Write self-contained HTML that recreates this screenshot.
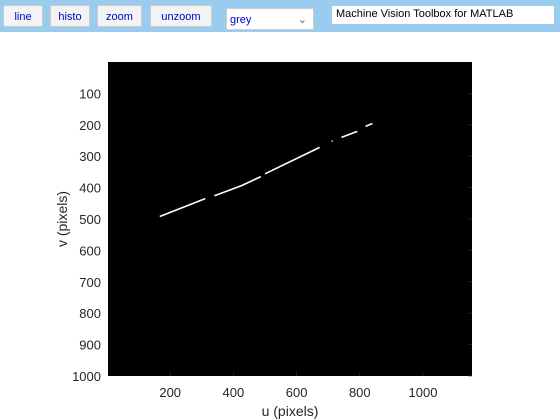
<!DOCTYPE html>
<html><head><meta charset="utf-8"><style>
body{margin:0;width:560px;height:420px;background:#fff;overflow:hidden;font-family:"Liberation Sans",sans-serif;position:relative}
#bar{position:absolute;left:0;top:0;width:560px;height:32px;background:#99ccee}
.btn{position:absolute;top:5px;height:22px;background:#f4f4f4;border:1px solid #ccc;border-radius:2px;color:#0000cc;font-size:11px;text-align:center;line-height:22px;box-sizing:border-box}
#sel{position:absolute;left:226px;top:8px;width:88px;height:22px;background:#fff;border:1px solid #ccc;box-sizing:border-box;color:#0000cc;font-size:11px;line-height:22px;padding-left:3px}
#title{position:absolute;left:332px;top:6px;width:222px;height:18px;background:#fff;font-size:11px;line-height:16px;padding-left:4px;box-sizing:border-box}
</style></head><body>
<div id="bar">
<div class="btn" style="left:3px;width:40px">line</div>
<div class="btn" style="left:50px;width:40px">histo</div>
<div class="btn" style="left:97px;width:45px">zoom</div>
<div class="btn" style="left:150px;width:62px">unzoom</div>
<div id="sel">grey<span style="position:absolute;right:6px;top:0;color:#666">&#8964;</span></div>
<div id="title">Machine Vision Toolbox for MATLAB</div>
</div>
<svg id="chart" width="560" height="420" style="position:absolute;left:0;top:0"></svg>
<script>
const segU=[[167,311],[340,425,487],[500,673],[711,714],[742,792],[818,840]];
const segV=[[492,435],[426,394,365],[356,272],[253,251],[240,221],[205,196]];
const xTicks=[200,400,600,800,1000];
const yTicks=[100,200,300,400,500,600,700,800,900,1000];
const X0=107,XS=0.316,Y0=62,YS=0.314;
function sx(u){return X0+u*XS}
function sy(v){return Y0+v*YS}
const NS="http://www.w3.org/2000/svg",svg=document.getElementById('chart');
function mk(t,a){const e=document.createElementNS(NS,t);for(const k in a)e.setAttribute(k,a[k]);svg.appendChild(e);return e}
const bg=mk('rect',{x:108,y:62,width:364,height:314,fill:'#000'});


segU.forEach((us,i)=>{
 const p=mk('polyline',{points:us.map((u,j)=>sx(u)+','+sy(segV[i][j])).join(' '),fill:'none',stroke:'#fff','stroke-width':1.6});
 
 
});
xTicks.forEach(t=>{
 const tk=mk('line',{x1:sx(t),x2:sx(t),y1:376,y2:372,stroke:'#333','stroke-width':0.6});
 
 
 const l=mk('text',{x:sx(t),y:397,'text-anchor':'middle','font-size':13,fill:'#262626','font-family':'Liberation Sans'});l.textContent=t;
 
 
});
yTicks.forEach(t=>{
 const tk=mk('line',{x1:472,x2:468,y1:sy(t),y2:sy(t),stroke:'#333','stroke-width':0.6});
 
 
 const l=mk('text',{x:101,y:sy(t)+5,'text-anchor':'end','font-size':13,fill:'#262626','font-family':'Liberation Sans'});l.textContent=t;
 
 
});
const xt=mk('text',{x:290,y:416,'text-anchor':'middle','font-size':14,fill:'#262626','font-family':'Liberation Sans'});xt.textContent='u (pixels)';


const yt=mk('text',{x:0,y:0,'text-anchor':'middle','font-size':14,fill:'#262626','font-family':'Liberation Sans',transform:'translate(67,219) rotate(-90)'});yt.textContent='v (pixels)';


</script>
</body></html>
